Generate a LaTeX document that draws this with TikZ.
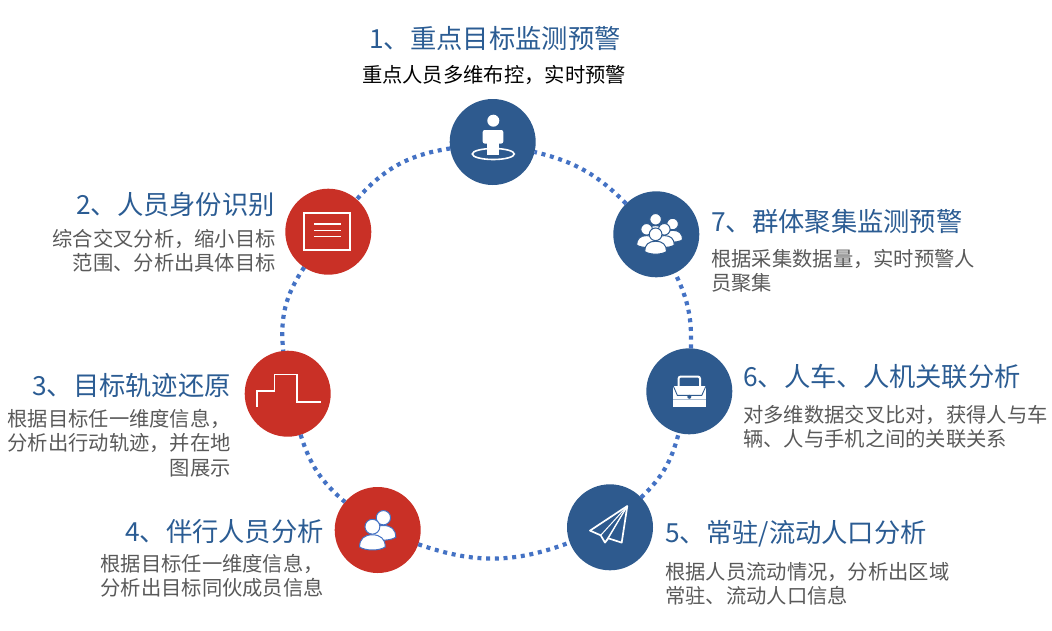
\documentclass[tikz,border=0pt]{standalone}
\usepackage{fontspec}
\setmainfont{Noto Sans CJK SC}
\usetikzlibrary{positioning}
\definecolor{hubblue}{HTML}{2E5A8E}
\definecolor{hubred}{HTML}{C93026}
\definecolor{dotblue}{HTML}{4472C4}
\definecolor{titleblue}{HTML}{2B5C93}
\definecolor{bodygray}{HTML}{595959}
\tikzset{
  hub/.style={circle, minimum size=86pt, inner sep=0pt, outer sep=0pt},
  bluehub/.style={hub, fill=hubblue},
  redhub/.style={hub, fill=hubred},
  ringlink/.style={draw=dotblue, line width=4.2pt, dash pattern=on 4pt off 4.7pt},
  headtext/.style={inner sep=0pt, text=titleblue, font=\fontsize{26.3}{30}\selectfont},
  bodytext/.style={inner sep=0pt, text=bodygray, font=\fontsize{20.3}{24.5}\selectfont},
  iconline/.style={draw=white, line width=1.7pt},
  personicon/.pic={
    \path[fill=white, draw=#1, line width=1pt] (-9.5,15) .. controls (-9.5,9) and (-6,6) .. (0,6)
      .. controls (6,6) and (9.5,9) .. (9.5,15) .. controls (5,18) and (-5,18) .. cycle;
    \path[fill=white, draw=#1, line width=1pt] (0,0) circle (5.5);
  }
}
\begin{document}
\begin{tikzpicture}[x=1pt, y=-1pt]
  \useasboundingbox (0,0) rectangle (1052,630);

  \node[bluehub] (n1) at (492.7,142) {};
  \node[redhub] (n2) at (328.3,231.7) {};
  \node[redhub] (n3) at (287.7,393.7) {};
  \node[redhub] (n4) at (377.7,530) {};
  \node[bluehub] (n5) at (610,527.3) {};
  \node[bluehub] (n6) at (689.3,391.3) {};
  \node[bluehub] (n7) at (656.3,234.3) {};

  \draw[ringlink] (n1) to[bend right=20] (n2);
  \draw[ringlink] (n2) to[bend right=20] (n3);
  \draw[ringlink] (n3) to[bend right=16] (n4);
  \draw[ringlink] (n4) to[bend right=20] (n5);
  \draw[ringlink] (n5) to[bend right=16] (n6);
  \draw[ringlink] (n6) to[bend right=14] (n7);
  \draw[ringlink] (n7) to[bend right=16] (n1);

  % person on a ring
  \begin{scope}[shift={(n1)}]
    \fill[white] (0.6,-21.3) circle (6);
    \fill[white, rounded corners=2pt] (-10,-12) rectangle (10.6,1.5);
    \fill[white] (-6,1) rectangle (6.6,13);
    \draw[white, line width=1.6pt] (0.6,12) ellipse (21 and 5.5);
  \end{scope}

  % form
  \begin{scope}[shift={(n2)}]
    \draw[iconline] (-24,-18.4) rectangle (21.7,18.3);
    \draw[iconline, line width=1.4pt] (-14.3,-7.7) -- (12.7,-7.7);
    \draw[iconline, line width=1.4pt] (-14.3,-1.4) -- (12.7,-1.4);
    \draw[iconline, line width=1.4pt] (-14.3,5) -- (12.7,5);
  \end{scope}

  % track
  \begin{scope}[shift={(n3)}]
    \draw[iconline] (-31,13) -- (-31,-3) -- (-13.3,-3) -- (-13.3,-19.3) -- (9,-19.3) -- (9,8.3) -- (33,8.3);
  \end{scope}

  % companions
  \begin{scope}[shift={(n4)}]
    \pic[scale=1.3] at (5.7,-12.3) {personicon=dotblue};
    \pic[scale=1.35] at (-5.3,-3.3) {personicon=dotblue};
  \end{scope}

  % paper plane
  \begin{scope}[shift={(n5)}]
    \draw[iconline, line join=round] (17.3,-21.3) -- (-20,3.3) -- (-9.3,8) -- (-5,15.3) -- (-1.7,11) -- (11.7,15.3) -- cycle;
    \draw[iconline, line width=1pt] (17.3,-21.3) -- (-9.3,8);
    \draw[iconline, line width=1pt] (17.3,-21.3) -- (-5,15.3);
    \draw[iconline, line width=1pt] (17.3,-21.3) -- (-1.7,11);
  \end{scope}

  % briefcase
  \begin{scope}[shift={(n6)}]
    \draw[white, line width=2pt, rounded corners=2pt] (-10.7,-4) -- (-10.7,-14.7) -- (10.7,-14.7) -- (10.7,-4);
    \fill[white] (-16,-5.3) rectangle (16.7,16);
    \draw[hubblue, line width=0.9pt] (-16,-5.3) -- (-12,4) -- (12.5,4) -- (16.7,-5.3);
    \fill[hubblue] (0,5.5) circle (2);
    \draw[hubblue!40, line width=0.5pt] (-16,7.5) -- (16.7,7.5);
  \end{scope}

  % crowd
  \begin{scope}[shift={(n7)}]
    \pic[scale=1.05] at (16.3,-10.3) {personicon=hubblue};
    \pic[scale=1.05] at (-0.7,-15) {personicon=hubblue};
    \pic[scale=1.05] at (-9.7,-5) {personicon=hubblue};
    \pic[scale=1.05] at (8,-5) {personicon=hubblue};
    \pic[scale=1.15] at (-0.7,0) {personicon=hubblue};
  \end{scope}

  \node[headtext] (head1) at (495,38) {1、重点目标监测预警};
  \node[bodytext, text=black] (body1) at (494,75) {重点人员多维布控，实时预警};

  \node[headtext, anchor=east] (head2) at (275,205) {2、人员身份识别};
  \node[bodytext, anchor=north east, align=right] (body2) at (276,229) {综合交叉分析，缩小目标\\范围、分析出具体目标};

  \node[headtext, anchor=east] (head3) at (231,385) {3、目标轨迹还原};
  \node[bodytext, anchor=north east, align=right] (body3) at (231,409) {根据目标任一维度信息，\\分析出行动轨迹，并在地\\图展示};

  \node[headtext, anchor=east] (head4) at (324,532) {4、伴行人员分析};
  \node[bodytext, anchor=north east, align=left] (body4) at (324,554) {根据目标任一维度信息，\\分析出目标同伙成员信息};

  \node[headtext, anchor=west] (head5) at (665,534) {5、常驻/流动人口分析};
  \node[bodytext, anchor=north west, align=left] (body5) at (665,562) {根据人员流动情况，分析出区域\\常驻、流动人口信息};

  \node[headtext, anchor=west] (head6) at (743,377) {6、人车、人机关联分析};
  \node[bodytext, anchor=north west, align=left] (body6) at (743,405) {对多维数据交叉比对，获得人与车\\辆、人与手机之间的关联关系};

  \node[headtext, anchor=west] (head7) at (711,222) {7、群体聚集监测预警};
  \node[bodytext, anchor=north west, align=left] (body7) at (711,249) {根据采集数据量，实时预警人\\员聚集};
\end{tikzpicture}
\end{document}
